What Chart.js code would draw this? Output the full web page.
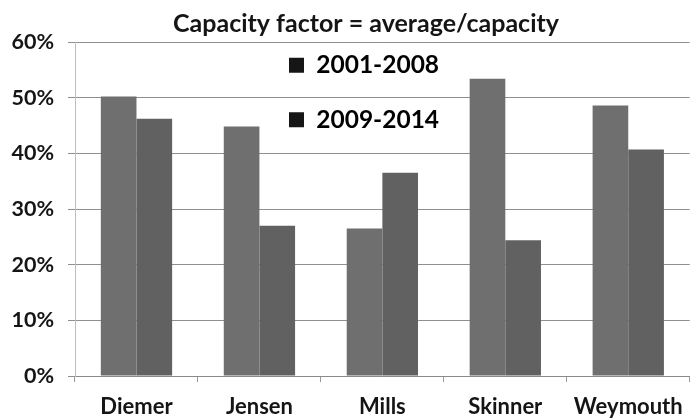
<!DOCTYPE html>
<html>
<head>
<meta charset="utf-8">
<script src="https://cdn.jsdelivr.net/npm/chart.js@4.4.1/dist/chart.umd.min.js"></script>
<style>
  html, body { margin: 0; padding: 0; background: #ffffff; }
  #wrap { width: 695px; height: 419px; }
</style>
</head>
<body>
<div id="wrap"><canvas id="c" width="695" height="419"></canvas></div>
<script>
const categories = ['Diemer', 'Jensen', 'Mills', 'Skinner', 'Weymouth'];
const seriesNames = ['2001-2008', '2009-2014'];
const values2001_2008 = [50.2, 44.8, 26.5, 53.4, 48.6];
const values2009_2014 = [46.2, 27.0, 36.5, 24.4, 40.7];
const yTicks = [0, 10, 20, 30, 40, 50, 60];

const FONT = 'Lato, "Open Sans", sans-serif';

const legendPlacer = {
  id: 'legendPlacer',
  afterLayout(chart) {
    const lg = chart.legend;
    if (lg) {
      const pad = lg.options.labels.padding;
      lg.left = 289 - pad;
      lg.top = 53 - pad;
      lg.right = lg.left + 260;
      lg.bottom = lg.top + 200;
      lg.width = 260;
      lg.height = 200;
    }
    const tb = chart.titleBlock;
    if (tb) {
      tb.left += 20;
      tb.right += 20;
    }
  }
};

new Chart(document.getElementById('c'), {
  type: 'bar',
  data: {
    labels: categories,
    datasets: [
      { label: seriesNames[0], data: values2001_2008, backgroundColor: '#6f6f6f', borderWidth: 0 },
      { label: seriesNames[1], data: values2009_2014, backgroundColor: '#616161', borderWidth: 0 }
    ]
  },
  options: {
    responsive: false,
    animation: false,
    devicePixelRatio: 1,
    layout: { padding: { left: 0, right: 3, top: 0, bottom: 0 } },
    datasets: { bar: { categoryPercentage: 0.58, barPercentage: 1.0 } },
    plugins: {
      title: {
        display: true,
        text: 'Capacity factor = average/capacity',
        color: '#151515',
        font: { family: FONT, size: 25, weight: 'bold', lineHeight: 1.2 },
        padding: { top: 9, bottom: 3 }
      },
      legend: {
        position: 'chartArea',
        align: 'start',
        labels: {
          boxWidth: 15,
          boxHeight: 15,
          padding: 30,
          color: '#151515',
          font: { family: FONT, size: 24.5, weight: 'bold' },
          generateLabels(chart) {
            return chart.data.datasets.map((ds, i) => ({
              text: ds.label,
              fillStyle: '#161616',
              strokeStyle: '#161616',
              lineWidth: 0,
              hidden: false,
              datasetIndex: i
            }));
          }
        }
      },
      tooltip: { enabled: false }
    },
    scales: {
      x: {
        grid: { display: true, drawOnChartArea: false, drawTicks: true, tickLength: 6, color: '#9a9a9a', offset: true },
        border: { display: true, color: '#8a8a8a', width: 1 },
        ticks: { color: '#151515', padding: 12, font: { family: FONT, size: 22, weight: 'bold' }, maxRotation: 0 },
        afterFit(scale) { scale.height = 43; }
      },
      y: {
        min: 0,
        max: 60,
        afterBuildTicks(scale) { scale.ticks = yTicks.map(v => ({ value: v })); },
        grid: { color: '#8f8f8f', tickLength: 7, drawTicks: true },
        border: { display: true, color: '#bdbdbd', width: 1 },
        ticks: {
          color: '#151515',
          padding: 14,
          font: { family: FONT, size: 21.5, weight: 'bold' },
          callback: (v) => v + '%'
        },
        afterFit(scale) { scale.width = 75; }
      }
    }
  },
  plugins: [legendPlacer]
});
</script>
</body>
</html>
